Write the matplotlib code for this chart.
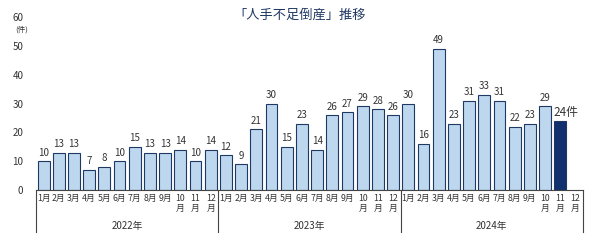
import matplotlib
matplotlib.use('Agg')
from matplotlib import pyplot as plt
import matplotlib.transforms as mtransforms

plt.rcParams['font.family'] = ['Noto Sans CJK JP', 'DejaVu Sans']

# Data
years = ['2022年', '2023年', '2024年']
months = ['1月', '2月', '3月', '4月', '5月', '6月', '7月', '8月', '9月',
          '10\n月', '11\n月', '12\n月']
counts_2022 = [10, 13, 13, 7, 8, 10, 15, 13, 13, 14, 10, 14]
counts_2023 = [12, 9, 21, 30, 15, 23, 14, 26, 27, 29, 28, 26]
counts_2024 = [30, 16, 49, 23, 31, 33, 31, 22, 23, 29, 24]

values = counts_2022 + counts_2023 + counts_2024
n_slots = 12 * len(years)

light = '#bdd7ee'
edge = '#1f3864'
dark = '#10306e'
text_col = '#333333'

fig = plt.figure(figsize=(6, 2.44), dpi=100)
# axes placed in pixel terms: x 36..583, y 190 (value 0) .. 17 (value 60)
ax = fig.add_axes([36 / 600, 54 / 244, 547 / 600, 173 / 244])

xs = list(range(len(values)))
colors = [light] * len(values)
colors[-1] = dark
ax.bar(xs, values, width=0.78, color=colors, edgecolor=edge, linewidth=0.8)

# value labels
for x, v in zip(xs[:-1], values[:-1]):
    ax.text(x, v + 1.2, str(v), ha='center', va='bottom', fontsize=7, color=text_col)
# latest month: bigger label with unit, starting at the bar's left edge
ax.text(xs[-1] - 0.45, values[-1] + 0.6, f'{values[-1]}件', ha='left', va='bottom',
        fontsize=8.5, color=text_col)

ax.set_xlim(-0.5, n_slots - 0.5)
ax.set_ylim(0, 60)
ax.set_yticks(range(0, 61, 10))
ax.tick_params(axis='y', length=0, labelsize=7, labelcolor=text_col, pad=9)
ax.set_xticks(range(n_slots))
ax.set_xticklabels(months * len(years), fontsize=6.3, color=text_col, linespacing=1.1)
ax.tick_params(axis='x', length=0, pad=3)

for s in ['top', 'right', 'left']:
    ax.spines[s].set_visible(False)
ax.spines['bottom'].set_color('#444444')
ax.spines['bottom'].set_linewidth(0.8)

# unit label under the 60 tick
ax.text(-0.027, 0.93, '(件)', transform=ax.transAxes, ha='center', va='center',
        fontsize=5.5, color=text_col)

# year dividers and year labels
trans = mtransforms.blended_transform_factory(ax.transData, ax.transAxes)
for k in range(len(years) + 1):
    xb = k * 12 - 0.5
    ax.plot([xb, xb], [0, -0.245], transform=trans, color='#444444', lw=0.8,
            clip_on=False)
for k, yr in enumerate(years):
    ax.text(k * 12 + 5.5, -0.21, yr, transform=trans, ha='center', va='center',
            fontsize=7, color=text_col)

fig.text(0.5, 1 - 15 / 244, '「人手不足倒産」推移', ha='center', va='center',
         fontsize=9.5, color=edge)

fig.savefig('out.png', dpi=100)
